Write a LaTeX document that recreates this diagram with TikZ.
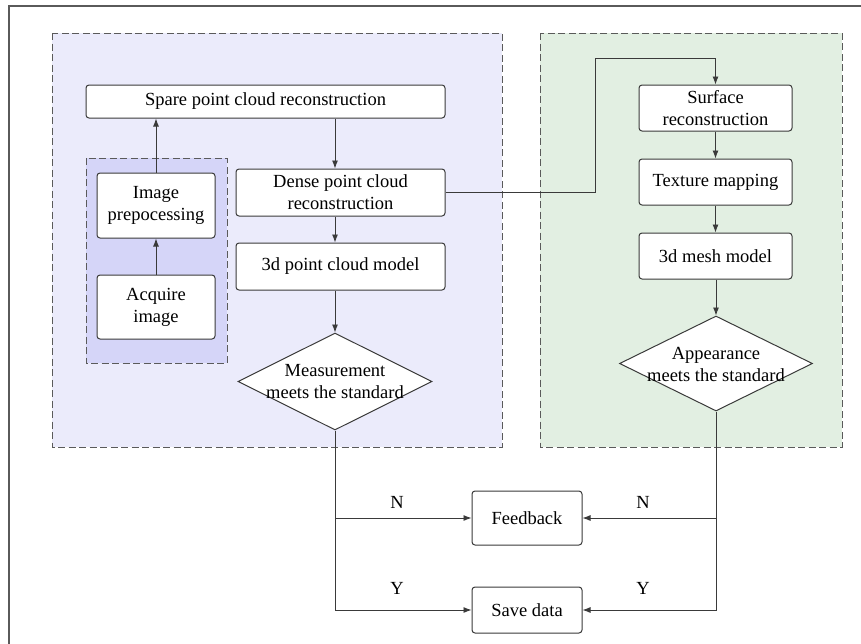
\documentclass[tikz,border=0pt]{standalone}
\usepackage{fontspec}
\setmainfont{Liberation Serif}
\usetikzlibrary{shapes.geometric,arrows.meta}
\definecolor{frameline}{HTML}{5A5A5A}
\definecolor{boxline}{HTML}{3A3A3A}
\definecolor{blueback}{HTML}{EBEBFB}
\definecolor{bluedeep}{HTML}{D5D5F8}
\definecolor{greenback}{HTML}{E2EFE2}
\tikzset{
  x=1pt, y=-1pt,
  every node/.style={font=\fontsize{18.5}{22}\selectfont, text=black},
  group/.style={draw=frameline, line width=1pt, dash pattern=on 7pt off 3.5pt},
  procbox/.style={draw=boxline, fill=white, line width=1pt, rounded corners=3pt,
    align=center, inner sep=0pt},
  decision/.style={diamond, draw=boxline, fill=white, line width=1pt,
    inner sep=0pt, minimum width=194pt, minimum height=97pt},
  arr/.style={draw=boxline, line width=0.9pt, -{Latex[length=8pt,width=6pt]}},
  conn/.style={draw=boxline, line width=0.9pt},
}
\begin{document}
\begin{tikzpicture}
\useasboundingbox (0,0) rectangle (861,643);
\clip (0,0) rectangle (861,643);
\fill[white] (0,0) rectangle (861,643);
% outer frame
\draw[frameline, line width=1.2pt] (9,6) rectangle (872,660);

% group backgrounds
\filldraw[group, fill=blueback] (52,33) rectangle (502,447);
\filldraw[group, fill=greenback] (540,33) rectangle (842,447);
\filldraw[group, fill=bluedeep] (86,158) rectangle (227,363);

% process steps
\node[procbox, minimum width=359pt, minimum height=33pt] (spare) at (265.5,101.5) {Spare point cloud reconstruction};
\node[procbox, minimum width=118pt, minimum height=65pt] (prep) at (156,205.5) {Image\\prepocessing};
\node[procbox, minimum width=118pt, minimum height=64pt] (acq) at (156,307) {Acquire\\image};
\node[procbox, minimum width=209pt, minimum height=47pt] (dense) at (340.5,192.5) {Dense point cloud\\reconstruction};
\node[procbox, minimum width=209pt, minimum height=47pt] (pcm) at (340.5,266.5) {3d point cloud model};
\node[decision] (meas) at (335,381.5) {};
\node[align=center, inner sep=0pt] (measT) at (335,382) {Measurement\\meets the standard};

\node[procbox, minimum width=153pt, minimum height=46pt] (surf) at (715.5,108) {Surface\\reconstruction};
\node[procbox, minimum width=153pt, minimum height=46pt] (tex) at (715.5,182) {Texture mapping};
\node[procbox, minimum width=153pt, minimum height=46pt] (mesh) at (715.5,256) {3d mesh model};
\node[decision, minimum width=193pt, minimum height=95pt] (app) at (716,363.5) {};
\node[align=center, inner sep=0pt] (appT) at (716,364) {Appearance\\meets the standard};

\node[procbox, minimum width=110pt, minimum height=54pt] (fb) at (527,518) {Feedback};
\node[procbox, minimum width=110pt, minimum height=46pt] (save) at (527,610) {Save data};

% branch labels
\node (nl) at (397,502) {N};
\node (yl) at (397,588) {Y};
\node (nr) at (643,502) {N};
\node (yr) at (643,588) {Y};

% connectors
\coordinate (bend) at (595,58);
\draw[arr] (acq.north) -- (prep.south);
\draw[arr] (prep.north) -- (prep.north |- spare.south);
\draw[arr] (meas.north |- spare.south) -- (meas.north |- dense.north);
\draw[arr] (meas.north |- dense.south) -- (meas.north |- pcm.north);
\draw[arr] (meas.north |- pcm.south) -- (meas.north);
\draw[arr] (dense.east) -| (bend) -| (surf.north);
\draw[arr] (surf.south) -- (tex.north);
\draw[arr] (tex.south) -- (mesh.north);
\draw[arr] (app.north |- mesh.south) -- (app.north);

\draw[arr] (meas.south) |- (save.west);
\draw[arr] (meas.south |- fb.west) -- (fb.west);
\draw[arr] (app.south) |- (save.east);
\draw[arr] (app.south |- fb.east) -- (fb.east);
\end{tikzpicture}
\end{document}
